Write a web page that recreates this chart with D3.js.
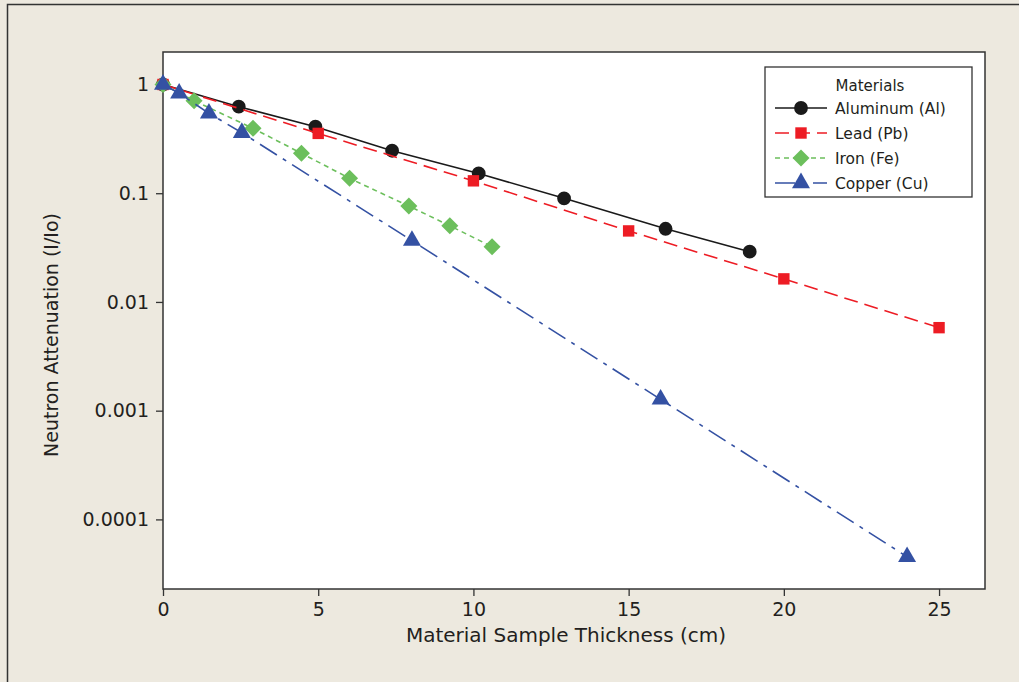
<!DOCTYPE html>
<html>
<head>
<meta charset="utf-8">
<script src="https://cdn.jsdelivr.net/npm/d3@7"></script>
<style>
  body { margin: 0; background: #ede9df; }
  svg { display: block; }
  text { font-family: "DejaVu Sans", sans-serif; fill: #231f20; }
</style>
</head>
<body>
<div id="chart"></div>
<script>
// data
var alX = [0, 2.44, 4.91, 7.38, 10.17, 12.92, 16.19, 18.9];
var alY = [1, 0.625, 0.409, 0.246, 0.152, 0.0898, 0.0471, 0.029];
var pbX = [0, 5, 10, 15, 20, 25];
var pbY = [1, 0.355, 0.13, 0.045, 0.0163, 0.0058];
var feX = [0, 1, 2.9, 4.46, 6.01, 7.92, 9.24, 10.6];
var feY = [1, 0.71, 0.395, 0.233, 0.137, 0.0762, 0.0502, 0.0322];
var cuX = [0, 0.52, 1.48, 2.54, 8.02, 16.03, 23.97];
var cuY = [1, 0.83, 0.543, 0.36, 0.0366, 0.00127, 0.0000453];

var xTicks = [0, 5, 10, 15, 20, 25];
var yTicks = [1, 0.1, 0.01, 0.001, 0.0001];
var yTickLabels = ["1", "0.1", "0.01", "0.001", "0.0001"];

var series = [
  { name: "Aluminum (Al)", xs: alX, ys: alY, color: "#1a1a1a", dash: null, symbol: d3.symbolCircle, size: 150, rot: 0 },
  { name: "Lead (Pb)", xs: pbX, ys: pbY, color: "#ed1c24", dash: "14,7", symbol: d3.symbolSquare, size: 130, rot: 0 },
  { name: "Iron (Fe)", xs: feX, ys: feY, color: "#6cbf5c", dash: "5,4", symbol: d3.symbolSquare, size: 145, rot: 45 },
  { name: "Copper (Cu)", xs: cuX, ys: cuY, color: "#3451a3", dash: "20,7,4,7", symbol: d3.symbolTriangle, size: 140, rot: 0 }
];

var W = 1019, H = 682;
var margin = { top: 52, left: 163, right: W - 985, bottom: H - 589 };
var width = W - margin.left - margin.right;
var height = H - margin.top - margin.bottom;

var svg = d3.select("#chart").append("svg")
  .attr("width", W)
  .attr("height", H);

// outer frame
svg.append("rect")
  .attr("x", 7.5).attr("y", 4.5)
  .attr("width", 1100).attr("height", 800)
  .attr("fill", "#ede9df")
  .attr("stroke", "#333").attr("stroke-width", 1.5);

var g = svg.append("g").attr("transform", `translate(${margin.left},${margin.top})`);

var xscale = d3.scaleLinear().domain([0, 26.48]).range([0, width]);
var yscale = d3.scaleLog().domain([1.99, 0.0000229]).range([0, height]);

g.append("rect")
  .attr("width", width).attr("height", height)
  .attr("fill", "#fff")
  .attr("stroke", "#333").attr("stroke-width", 1.5);

// axes
var xaxis = d3.axisBottom(xscale).tickValues(xTicks).tickSize(7).tickSizeOuter(0).tickPadding(4);
var gx = g.append("g").attr("transform", `translate(0,${height})`).call(xaxis);
var yaxis = d3.axisLeft(yscale).tickValues(yTicks).tickSize(7).tickSizeOuter(0).tickPadding(7)
  .tickFormat((d, i) => yTickLabels[i]);
var gy = g.append("g").call(yaxis);

[gx, gy].forEach(function(a) {
  a.select(".domain").remove();
  a.selectAll(".tick line").attr("stroke", "#333").attr("stroke-width", 1.3);
  a.selectAll(".tick text").style("font-size", "19px").attr("fill", "#231f20");
});
gx.selectAll(".tick text").attr("dy", "0.85em");

svg.append("text")
  .attr("x", 566).attr("y", 642)
  .attr("text-anchor", "middle")
  .style("font-size", "20px")
  .text("Material Sample Thickness (cm)");

svg.append("text")
  .attr("transform", "translate(58,335) rotate(-90)")
  .attr("text-anchor", "middle")
  .style("font-size", "19px")
  .text("Neutron Attenuation (I/Io)");

// lines + markers
var line = d3.line()
  .x(d => xscale(d[0]))
  .y(d => yscale(d[1]));

series.forEach(function(s) {
  var pts = s.xs.map((x, i) => [x, s.ys[i]]);
  g.append("path")
    .datum(pts)
    .attr("d", line)
    .attr("fill", "none")
    .attr("stroke", s.color)
    .attr("stroke-width", 1.6)
    .attr("stroke-dasharray", s.dash);
  g.selectAll(null)
    .data(pts)
    .join("path")
    .attr("transform", d => `translate(${xscale(d[0])},${yscale(d[1])}) rotate(${s.rot})`)
    .attr("d", d3.symbol().type(s.symbol).size(s.size))
    .attr("fill", s.color);
});

// legend
var lg = svg.append("g").attr("transform", "translate(765,67)");
lg.append("rect")
  .attr("width", 207).attr("height", 130)
  .attr("fill", "#fff")
  .attr("stroke", "#333").attr("stroke-width", 1.3);
lg.append("text")
  .attr("x", 105).attr("y", 24)
  .attr("text-anchor", "middle")
  .style("font-size", "15px")
  .text("Materials");

series.forEach(function(s, i) {
  var yy = 41 + i * 25;
  lg.append("line")
    .attr("x1", 10).attr("x2", 62)
    .attr("y1", yy).attr("y2", yy)
    .attr("stroke", s.color)
    .attr("stroke-width", 1.6)
    .attr("stroke-dasharray", s.dash);
  lg.append("path")
    .attr("transform", `translate(36,${yy}) rotate(${s.rot})`)
    .attr("d", d3.symbol().type(s.symbol).size(s.size))
    .attr("fill", s.color);
  lg.append("text")
    .attr("x", 70).attr("y", yy + 6)
    .style("font-size", "15.5px")
    .text(s.name);
});
</script>
</body>
</html>
